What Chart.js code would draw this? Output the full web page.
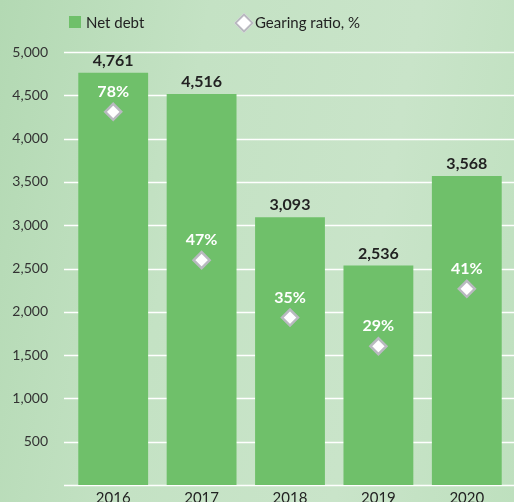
<!DOCTYPE html>
<html>
<head>
<meta charset="utf-8">
<script src="https://cdn.jsdelivr.net/npm/chart.js@4"></script>
<style>
  html, body { margin: 0; padding: 0; }
  body {
    width: 514px; height: 502px; overflow: hidden; position: relative;
    background: linear-gradient(100deg, #b3d9b3 0%, #c4e2c4 35%, #c9e4c9 70%, #bee0be 100%);
    font-family: Lato, "Open Sans", sans-serif;
  }
  #wrap { position: absolute; left: 0; top: 0; width: 514px; height: 502px; }
  .legend { position: absolute; top: 13px; font-size: 15px; color: #222; line-height: 18px; }
  .sq { position: absolute; left: 69px; top: 16px; width: 12px; height: 12px; background: #6fc06a; }
  .dia { position: absolute; left: 237px; top: 16px; width: 10px; height: 10px; background: #fff;
         border: 2px solid #b9b9c0; transform: rotate(45deg); }
</style>
</head>
<body>
<div id="wrap"><canvas id="chart" width="514" height="502"></canvas></div>
<div class="sq"></div><div class="legend" style="left:86px">Net debt</div>
<div class="dia"></div><div class="legend" style="left:255px">Gearing ratio, %</div>
<script>
// ---- data ----
const years = ['2016', '2017', '2018', '2019', '2020'];
const netDebt = [4761, 4516, 3093, 2536, 3568];
const gearing = [78, 47, 35, 29, 41];
const yTicks = [500, 1000, 1500, 2000, 2500, 3000, 3500, 4000, 4500, 5000];

const fmt = v => v.toLocaleString('en-US');

// white grid lines behind the bars
const gridPlugin = {
  id: 'grid',
  beforeDatasetsDraw(chart) {
    const { ctx, scales: { y } } = chart;
    ctx.save();
    ctx.strokeStyle = '#ffffff';
    ctx.lineWidth = 1.5;
    [0, ...yTicks].forEach(v => {
      const py = Math.round(y.getPixelForValue(v)) + 0.5;
      ctx.beginPath();
      ctx.moveTo(64, py);
      ctx.lineTo(514, py);
      ctx.stroke();
    });
    ctx.restore();
  }
};

// value labels
const labelPlugin = {
  id: 'labels',
  afterDatasetsDraw(chart) {
    const ctx = chart.ctx;
    ctx.save();
    ctx.textAlign = 'center';
    ctx.textBaseline = 'middle';
    ctx.font = 'bold 16px Lato, "Open Sans", sans-serif';
    chart.getDatasetMeta(0).data.forEach((bar, i) => {
      ctx.fillStyle = '#222';
      ctx.fillText(fmt(netDebt[i]), bar.x, bar.y - 12);
    });
    chart.getDatasetMeta(1).data.forEach((pt, i) => {
      ctx.fillStyle = '#ffffff';
      ctx.fillText(gearing[i] + '%', pt.x, pt.y - 20);
    });
    ctx.restore();
  }
};

new Chart(document.getElementById('chart'), {
  type: 'bar',
  data: {
    labels: years,
    datasets: [
      {
        type: 'bar',
        label: 'Net debt',
        data: netDebt,
        backgroundColor: '#6fc06a',
        barPercentage: 0.79,
        categoryPercentage: 1,
        yAxisID: 'y',
        order: 2
      },
      {
        type: 'line',
        label: 'Gearing ratio, %',
        data: gearing,
        showLine: false,
        pointStyle: 'rectRot',
        pointRadius: 8,
        pointBackgroundColor: '#ffffff',
        pointBorderColor: '#b9b9c0',
        pointBorderWidth: 2.5,
        yAxisID: 'y1',
        order: 1
      }
    ]
  },
  options: {
    responsive: false,
    animation: false,
    layout: { autoPadding: false, padding: { top: 52, right: 3, left: 0, bottom: 0 } },
    plugins: { legend: { display: false }, tooltip: { enabled: false } },
    scales: {
      x: {
        grid: { display: false, drawTicks: false },
        border: { display: false },
        ticks: { color: '#222', font: { family: 'Lato', size: 15 }, padding: 4 },
        afterFit(s) { s.height = 17; s.paddingLeft = 0; s.paddingRight = 0; }
      },
      y: {
        min: 0, max: 5000,
        grid: { display: false, drawTicks: false },
        border: { display: false },
        ticks: {
          stepSize: 500,
          color: '#333',
          padding: 21,
          font: { family: 'Lato', size: 14 },
          callback: v => v === 0 ? null : fmt(v)
        },
        afterFit(s) { s.width = 69; s.paddingTop = 0; s.paddingBottom = 0; }
      },
      y1: { display: false, min: 0, max: 90.5 }
    }
  },
  plugins: [gridPlugin, labelPlugin]
});
</script>
</body>
</html>
